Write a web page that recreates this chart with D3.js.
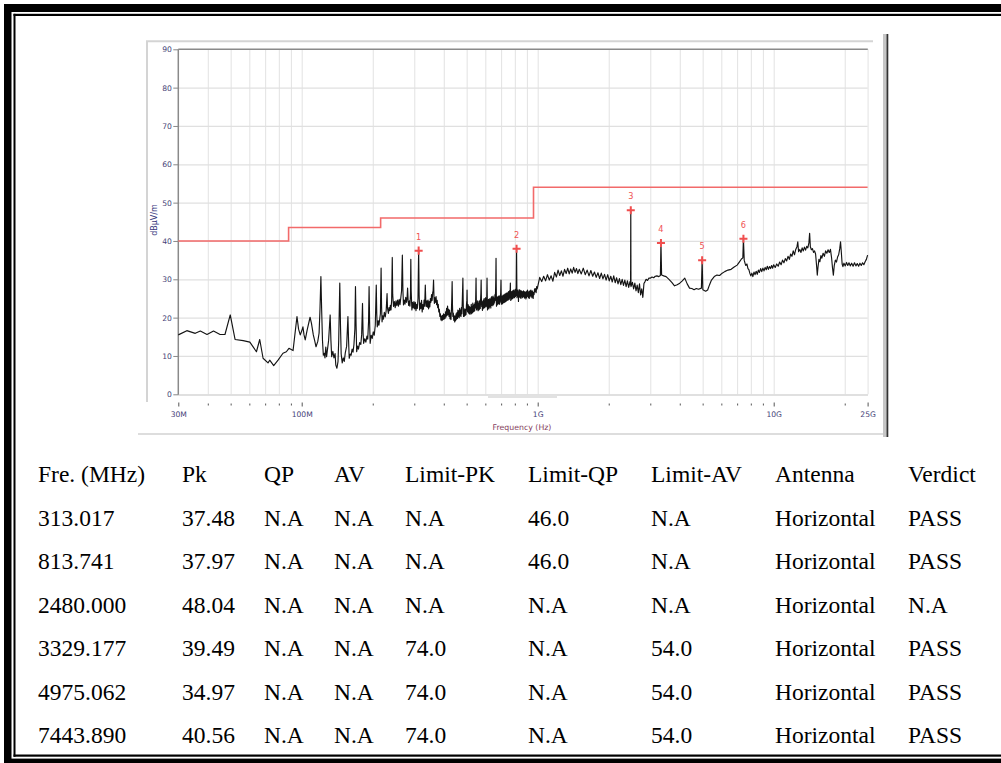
<!DOCTYPE html>
<html>
<head>
<meta charset="utf-8">
<script src="https://cdn.jsdelivr.net/npm/d3@7"></script>
<style>
  html, body { margin: 0; padding: 0; background: #fff; }
  svg { display: block; }
</style>
</head>
<body>
<svg id="chart" width="1001" height="763"></svg>
<script>
// ---------------- DATA ----------------
const yTickValues = [0, 10, 20, 30, 40, 50, 60, 70, 80, 90];
const xTickValues = [30, 40, 50, 60, 70, 80, 90, 100, 200, 300, 400, 500, 600, 700, 800, 900,
  1000, 2000, 3000, 4000, 5000, 6000, 7000, 8000, 9000, 10000, 20000, 25000];
const xTickLabels = { 30: "30M", 100: "100M", 1000: "1G", 10000: "10G", 25000: "25G" };

// limit line (step): frequency in MHz, level in dBuV/m
const limitFreqs = [30, 88, 216, 960, 25000];
const limitLevels = [40, 43.5, 46, 54, 54];

// measured trace [MHz, dBuV/m]
const traceLow = [
  [30,15.5],[32.6,16.6],[35.4,15.9],[37.2,16.5],[39.7,15.6],[42.3,16.5],[45.1,15.6],[47.3,15.6],
  [49.8,20.7],[52.2,14.3],[56.5,14.0],[60.3,13.6],[64.3,11.1],[66.4,14.3],[68.6,9.4],[72,8.2],
  [73.2,8.9],[76.1,7.5],[79.4,8.9],[83.3,10.7],[86.1,11.1],[88.3,12],[91.9,11.4],[95.5,20.3],
  [97,17],[98.6,15.5]
];
const traceMid = [
  [100,16.5],[101.2,17.6],[102.3,15.5],[103.5,14.2],[105.5,16.8],[108.5,20.1],[110,18.5],[112,15.5],
  [113.5,14],[115,12.4],[117,13.8],[118.5,16],[119.5,22],[120.6,30.7],[121.5,22],[122.5,14],
  [123.5,10.2],[124.6,10.7],[125.5,9.5],[126.5,12.3],[127.5,9.8],[128.5,11.5],[130,14],[132,20.7],
  [133,14],[134,9.8],[135.5,11.2],[137,9.5],[138.5,10.6],[139.5,7.6],[141,6.8],[142.5,8.5],
  [143.5,14],[145,29],[146,18],[147,10.5],[148.5,8.2],[150,9.5],[151.5,8.6],[153,10.8],[155,12.5],
  [157,20.3],[158,14],[159,9.4],[160.5,10.5],[162,10.2],[163.5,11.8],[165,11],[166.5,13],[168,17],
  [169,28.1],[170,18],[171,11.1],[172.5,12.6],[174,11.8],[176,13.5],[178,13],[179.5,15.5],
  [181,23.7],[182,16],[183,13.3],[185,14.5],[187,13.6],[189,15.2],[190.5,14.4],[192,19],[193,28.1],
  [194,19],[195,13.3],[197,15.4],[199,14.6],[201,16.3],[203,15.4],[205,18],[207,28.5],[208,21],
  [209,17.6],[211,19.2],[212.5,18],[214,19.5],[215.5,21],[217,32.9],[218,23],[219,18.9],[220.5,20.5],
  [222,19.6],[224,21.4],[226,20.2],[228,21.8],[230,26.3],[231,22.5],[233,21.1],[234.5,22.6],
  [236,21.8],[237.5,23.2],[239,22],[240.5,24.5],[242,35.7],[243,26],[245,22.9],[247,24.2],[249,22.6],
  [251,24.4],[253,23.1],[255,24.6],[257,23],[259,24.8],[261,23.4],[263,25.2],[265,27],[267,36.3],
  [268.5,27],[270,23.3],[272,24.6],[274,23.5],[276,25.3],[278,24],[279.5,25],[281,27.7],[282.5,24.5],
  [284,23.2],[286,24.4],[287.5,23],[289,26],[290,35.2],[291,27],[293,22],[295,24],[297,22.5],
  [299,24.2],[301,22.3],[303,24],[305,21.8],[307,23.5],[309,22.4],[311,25],[313,37.5],[314.5,26],
  [316,22],[318,23.8],[320,22.4],[322,24.5],[324,21.5],[326,23.4],[328,22.2],[330,24.6],[332,23],
  [334,28.5],[335.5,24.5],[337,22.9],[339,24.4],[341,22.7],[343,24.6],[345,22.3],[347,24.2],
  [349,22.8],[351,25],[353,24],[355,26],[357,24.5],[359,26.5],[360.5,27],[362,29.8],[363.5,25.5],
  [365,23.7],[367,25.2],[369,24],[371,25.5],[373,23.4],[375,24.5],[377,22.6],[379,23.5],[381,21.5],
  [383,22.2],[385,20.3],[387,21],[389,19.4],[391,20.4],[393,19.2],[395,20.6],[397,19.5],[399,21],
  [401,19.6],[403,20.8],[405,19.8],[407,21.5],[409,20.2],[411,22.4],[413,20.6],[415,23],[417,20.8],
  [419,22.2],[421,20.3],[423,22],[425,19.7],[427,21.2],[429,19.5],[431,22],[432.5,25],[434,29.4],
  [435.5,23],[437,20.3],[439,21.2],[441,19.3],[443,20.5],[445,18.9],[447,20.4],[449,19.2],[451,21],
  [453,19.6],[455,21.3],[457,19.8],[459,22],[461,20.2],[463,21.8],[465,20],[467,22.4],[469,20.5],
  [471,22],[473,20.3],[475,22.6],[477,21],[479,24],[480.5,27],[482,30.3],[483.5,24],[485,20.3],
  [487,22],[489,20.4],[491,22.3],[493,20.6],[495,22.1],[497,20.8],[499,23.2],[501,24.5],[502,27.2],
  [503.5,22],[505,21.5],[507,23.4],[509,21.2],[511,23],[513,21],[515,22.8],[517,20.9],[519,22.6],
  [521,21.2],[523,23.5],[525,21],[527,22.9],[529,21.3],[531,23.8],[533,21.5],[535,23.2],[537,21.6],
  [539,23.5],[541,21.8],[543,23.9],[545,22.5],[546.5,26],[548,30.3],[549.5,24],[551,22],[553,24],
  [555,22.3],[557,24.4],[559,21.8],[561,23.6],[563,22],[565,24.2],[567,22.2],[569,24.5],[571,22.4],
  [573,24.8],[574.5,26.5],[576,29.8],[577.5,24.5],[579,22.9],[581,24.3],[583,21.9],[585,24],
  [587,22.3],[589,24.6],[591,22.5],[593,25],[595,22.6],[597,24.2],[599,23],[601,25.2],[603,22.8],
  [605,24.6],[607,23],[608.5,26],[610,30.3],[611.5,25],[613,22],[615,24.2],[617,22.5],[619,24.8],
  [621,22.3],[623,24.5],[625,22.7],[627,25],[629,23],[631,24.6],[633,22.5],[635,25.2],[637,23.2],
  [639,25.5],[641,23.5],[643,25],[645,23.1],[647,25.6],[649,23.4],[651,25.2],[653,23.6],[655,25],
  [657,24],[659,26],[661,24.5],[663,27],[664.5,30],[666,35.5],[667.5,28],[669,23],[671,25],
  [673,23.3],[675,25.4],[677,23.5],[679,25.1],[681,23.6],[683,25.6],[685,23.8],[687,25.2],[689,23.5],
  [691,25.7],[693,24],[695,25.5],[697,26.5],[699,29.8],[700.5,25.5],[702,23.5],[704,25.6],[706,23.8],
  [708,25.4],[710,23.6],[712,25.8],[714,24],[716,25.5],[718,23.9],[720,26],[722,24.2],[724,25.8],
  [726,24],[728,26.2],[730,24.4],[732,25.9],[734,24.2],[736,26.4],[738,24.6],[740,26],[742,24.5],
  [744,26.5],[746,24.8],[748,26.2],[750,24.6],[752,26.8],[754,25],[756,26.4],[758,24.8],[760,27],
  [762,25.2],[764,26.5],[766,29],[767.5,26],[769,24.5],[771,26.6],[773,25],[775,26.8],[777,24.8],
  [779,26.3],[781,25.2],[783,27],[785,25],[787,26.6],[789,25.3],[791,27.2],[793,25.5],[795,26.8],
  [797,25.2],[799,27],[801,25.6],[803,27.4],[805,25.5],[807,26.8],[809,25.8],[811,28.5],[813.7,38],
  [815.5,30],[817,25.2],[819,27],[821,25.5],[823,27.2],[825,25.8],[827,26.6],[829,24.2],[831,26.8],
  [833,25.6],[835,27.3],[837,25.4],[839,26.9],[841,25.3],[843,27.1],[845,25.8],[847,26.6],[849,25],
  [852,27],[855,25.6],[858,26.8],[861,25.2],[864,26.7],[867,25.5],[870,27],[873,25.4],[876,26.6],
  [879,25.1],[882,26.8],[885,25.3],[888,26.5],[891,24.9],[894,26.7],[897,25.2],[900,26.9],[903,25.6],
  [906,27.2],[909,25.5],[912,26.8],[915,25.2],[918,26.5],[921,25],[924,26.9],[927,25.4],[930,27],
  [933,25.8],[936,27.2],[939,25.6],[942,26.8],[945,25.2],[948,27],[951,25.5],[954,26.7],[957,25],
  [960,26.5],[965,26],[970,27.5],[975,26.8],[980,27.6],[985,26.5],[990,28.1],[995,27.5]
];
const traceGHz = [
  [1000,28.1],[1020,30.5],[1040,29.4],[1060,30.8],[1080,29.6],[1100,31.2],[1120,29.8],[1140,30.9],
  [1160,29.5],[1180,31.8],[1200,30.6],[1220,32.4],[1240,31.0],[1260,32.2],[1280,30.8],[1300,32.6],
  [1320,31.5],[1340,32.9],[1360,31.4],[1380,32.7],[1400,31.6],[1420,33.1],[1440,31.8],[1460,32.8],
  [1480,31.5],[1500,32.6],[1530,31.4],[1560,32.9],[1590,31.2],[1620,32.4],[1650,30.9],[1680,32.3],
  [1710,30.8],[1740,31.9],[1770,30.5],[1800,31.7],[1830,30.2],[1860,31.6],[1890,30.1],[1920,31.3],
  [1950,29.8],[1980,31.2],[2010,29.6],[2040,30.8],[2070,29.3],[2100,30.9],[2130,29.1],[2160,30.4],
  [2190,28.8],[2220,30.2],[2250,28.6],[2280,30.0],[2310,28.4],[2340,29.8],[2370,28.1],[2400,29.6],
  [2430,27.9],[2460,29.4],[2475,28.5],[2480,48.04],[2485,28.1],[2520,29.2],[2550,27.5],[2580,29.0],
  [2610,27.0],[2640,28.5],[2670,26.5],[2700,28.8],[2730,25.9],[2760,27.5],[2790,25.3],[2820,28.9],
  [2850,29.4],[2880,30.0],[2920,29.7],[2960,30.3],[3000,30.3],[3050,30.6],[3100,30.4],[3150,30.8],
  [3200,30.9],[3260,30.7],[3310,31.0],[3329,39.49],[3350,31.1],[3420,30.9],[3500,30.7],[3600,30.0],
  [3700,29.2],[3800,28.3],[3900,28.6],[4000,29.0],[4100,29.6],[4200,30.3],[4300,28.8],[4400,27.7],
  [4500,27.6],[4600,27.3],[4700,27.6],[4800,27.4],[4940,27.7],[4975,34.97],[5010,27.3],[5150,26.9],
  [5250,27.2],[5350,28.6],[5450,29.8],[5600,30.7],[5750,31.1],[5900,31.0],[6050,31.6],[6200,32.0],
  [6400,32.4],[6600,32.6],[6800,33.2],[7000,33.7],[7150,34.5],[7300,35.3],[7400,35.6],[7443.89,40.56],
  [7500,35],[7560,34.2],[7620,33.6],[7700,34],[7780,32.8],[7850,32.5],[7920,31.6],[8000,30.9],
  [8080,31.6],[8160,30.7],[8250,31.9],[8340,31.2],[8430,32.1],[8520,31.3],[8610,32.4],[8700,31.8],
  [8800,32.8],[8900,32],[9000,32.9],[9100,32.2],[9200,33.1],[9300,32.5],[9400,33.4],[9500,32.6],
  [9600,33.3],[9700,32.8],[9800,33.6],[9900,32.9],[10000,33.8],[10150,33.1],[10300,34],[10450,33.4],
  [10600,34.5],[10750,33.8],[10900,35],[11050,34.3],[11200,35.4],[11350,34.8],[11500,36],[11650,35.2],
  [11800,36.6],[11950,36],[12100,37.4],[12250,36.4],[12400,37.8],[12550,38.5],[12650,39.8],[12750,37.2],
  [12900,37.8],[13050,37],[13200,38.2],[13350,37.4],[13500,38.4],[13650,37.6],[13800,38.6],[13950,38.2],
  [14100,39.5],[14200,42],[14300,38.5],[14450,37.7],[14600,38],[14750,37],[14900,37.4],[15050,36.6],
  [15200,33.5],[15300,31.1],[15400,33],[15550,35.2],[15700,34.6],[15850,36.2],[16000,35.5],[16200,36.8],
  [16400,36],[16600,37.4],[16800,36.8],[17000,37.7],[17200,37],[17400,37.8],[17600,35.5],[17750,33],
  [17900,31.1],[18050,33.5],[18250,35],[18450,34.5],[18650,35.8],[18850,36.4],[19050,38],[19200,39.8],
  [19350,37],[19500,34],[19650,33.3],[19850,34.2],[20100,33.5],[20350,34.4],[20600,33.6],[20850,34.3],
  [21100,33.5],[21400,34.2],[21700,33.4],[22000,34.3],[22300,33.5],[22600,34.1],[22900,33.4],[23200,34.2],
  [23500,33.6],[23800,34.3],[24100,33.8],[24400,34.6],[24700,35.2],[25000,36.3]
];

const tableHeader = ["Fre. (MHz)", "Pk", "QP", "AV", "Limit-PK", "Limit-QP", "Limit-AV", "Antenna", "Verdict"];
const tableRows = [
  ["313.017", "37.48", "N.A", "N.A", "N.A", "46.0", "N.A", "Horizontal", "PASS"],
  ["813.741", "37.97", "N.A", "N.A", "N.A", "46.0", "N.A", "Horizontal", "PASS"],
  ["2480.000", "48.04", "N.A", "N.A", "N.A", "N.A", "N.A", "Horizontal", "N.A"],
  ["3329.177", "39.49", "N.A", "N.A", "74.0", "N.A", "54.0", "Horizontal", "PASS"],
  ["4975.062", "34.97", "N.A", "N.A", "74.0", "N.A", "54.0", "Horizontal", "PASS"],
  ["7443.890", "40.56", "N.A", "N.A", "74.0", "N.A", "54.0", "Horizontal", "PASS"]
];
const markerIds = ["1", "2", "3", "4", "5", "6"];

// ---------------- DRAW ----------------
const svg = d3.select("#chart");
svg.append("rect").attr("width", 1001).attr("height", 763).attr("fill", "#fff");

// page borders (double line: thick outer, thin inner)
const borders = svg.append("g").attr("fill", "#000");
borders.append("rect").attr("x", 4).attr("y", 4).attr("width", 997).attr("height", 8);
borders.append("rect").attr("x", 13.5).attr("y", 13.8).attr("width", 987.5).attr("height", 2.2);
borders.append("rect").attr("x", 4).attr("y", 4).attr("width", 7.5).attr("height", 759);
borders.append("rect").attr("x", 13.5).attr("y", 13.8).attr("width", 2).attr("height", 743);
borders.append("rect").attr("x", 13.5).attr("y", 754.5).attr("width", 987.5).attr("height", 2.2);
borders.append("rect").attr("x", 4).attr("y", 758.6).attr("width", 997).attr("height", 4.4);

// screenshot frame decorations
const frame = svg.append("g");
frame.append("line").attr("x1", 146).attr("x2", 873).attr("y1", 41.3).attr("y2", 41.3)
  .attr("stroke", "#d4d4d4").attr("stroke-width", 2);
frame.append("line").attr("x1", 147).attr("x2", 147).attr("y1", 41).attr("y2", 402)
  .attr("stroke", "#d4d4d4").attr("stroke-width", 2);
frame.append("line").attr("x1", 138).attr("x2", 883).attr("y1", 434).attr("y2", 434)
  .attr("stroke", "#d2d2d2").attr("stroke-width", 1.5);
frame.append("rect").attr("x", 883).attr("y", 34).attr("width", 3.6).attr("height", 403).attr("fill", "#c6c6c6");
frame.append("rect").attr("x", 886.5).attr("y", 34).attr("width", 1.8).attr("height", 403).attr("fill", "#333");

// scales
const x = d3.scaleLog().domain([30, 25000]).range([178.3, 867.6]);
const y = d3.scaleLinear().domain([0, 90]).range([394.3, 49.3]);

// grid
const grid = svg.append("g");
grid.append("g").attr("transform", "translate(0,394.3)")
  .call(d3.axisBottom(x).tickValues(xTickValues.filter(v => v !== 30)).tickSize(-(394.3 - 49.3)).tickFormat(""))
  .call(g => g.select(".domain").remove())
  .call(g => g.selectAll("line").attr("stroke", "#e2e2e2").attr("stroke-width", 1));
grid.append("g").attr("transform", "translate(178.3,0)")
  .call(d3.axisLeft(y).tickValues(yTickValues.filter(v => v > 0 && v < 90)).tickSize(-(867.6 - 178.3)).tickFormat(""))
  .call(g => g.select(".domain").remove())
  .call(g => g.selectAll("line").attr("stroke", "#e0e0e0").attr("stroke-width", 1.3));
grid.append("line").attr("x1", 178.3).attr("x2", 868).attr("y1", 395).attr("y2", 395)
  .attr("stroke", "#d6d6d6").attr("stroke-width", 1.3);
grid.append("rect").attr("x", 488).attr("y", 394.5).attr("width", 69).attr("height", 3.5).attr("fill", "#e2e2e2");
// plot frame (top & left)
grid.append("line").attr("x1", 178.3).attr("x2", 867.8).attr("y1", 49.3).attr("y2", 49.3)
  .attr("stroke", "#8a8a8a").attr("stroke-width", 1.5);
grid.append("line").attr("x1", 178.3).attr("x2", 178.3).attr("y1", 49.3).attr("y2", 394.8)
  .attr("stroke", "#8a8a8a").attr("stroke-width", 1.5);

// y axis
const tickColor = "#463f78";
svg.append("g").attr("transform", "translate(178.3,0)")
  .call(d3.axisLeft(y).tickValues(yTickValues).tickSize(5).tickPadding(1.5))
  .call(g => g.select(".domain").remove())
  .call(g => g.selectAll("line").attr("stroke", "#888").attr("stroke-width", 1))
  .call(g => g.selectAll("text").attr("fill", tickColor)
    .attr("font-family", "DejaVu Sans, sans-serif").attr("font-size", 7.6));

// x axis (tick dots and labels below the plot)
svg.append("g").attr("transform", "translate(0,403.5)")
  .call(d3.axisBottom(x).tickValues(xTickValues).tickSize(2).tickPadding(6)
    .tickFormat(v => xTickLabels[v] || ""))
  .call(g => g.select(".domain").remove())
  .call(g => g.selectAll("line").attr("stroke", "#555").attr("stroke-width", 1)
    .attr("y1", d => xTickLabels[d] ? -1 : 0).attr("y2", d => xTickLabels[d] ? 3 : 2))
  .call(g => g.selectAll("text").attr("fill", tickColor)
    .attr("font-family", "DejaVu Sans, sans-serif").attr("font-size", 7.6));

svg.append("text").attr("x", 522).attr("y", 430).attr("text-anchor", "middle")
  .attr("font-family", "DejaVu Sans, sans-serif").attr("font-size", 7.8).attr("fill", "#843d5c")
  .text("Frequency (Hz)");
svg.append("text").attr("transform", "translate(157,220) rotate(-90)").attr("text-anchor", "middle")
  .attr("font-family", "DejaVu Sans, sans-serif").attr("font-size", 8).attr("fill", "#3b3b80")
  .text("dBμV/m");

// limit line
const limitPts = limitFreqs.map((f, i) => [f, limitLevels[i]]);
svg.append("path").datum(limitPts)
  .attr("d", d3.line().x(d => x(d[0])).y(d => y(d[1])).curve(d3.curveStepAfter))
  .attr("fill", "none").attr("stroke", "#f26a6a").attr("stroke-width", 1.6);

// trace
const trace = traceLow.concat(traceMid, traceGHz);
svg.append("path").datum(trace)
  .attr("d", d3.line().x(d => x(d[0])).y(d => y(d[1])))
  .attr("fill", "none").attr("stroke", "#141414").attr("stroke-width", 1.15).attr("stroke-linejoin", "round");

// markers
const markers = tableRows.map((r, i) => ({ id: markerIds[i], f: parseFloat(r[0]), v: parseFloat(r[1]) }));
const mg = svg.append("g").selectAll("g").data(markers).join("g")
  .attr("transform", d => `translate(${x(d.f)},${y(d.v)})`);
mg.append("path").attr("d", d3.symbol(d3.symbolPlus).size(23))
  .attr("stroke", "#f04e4e").attr("stroke-width", 2).attr("fill", "none");
mg.append("text").attr("y", -11).attr("text-anchor", "middle")
  .attr("font-family", "DejaVu Sans, sans-serif").attr("font-size", 8.2).attr("fill", "#f05252")
  .text(d => d.id);

// table
const colX = [38, 182, 264, 334, 405, 528, 651, 775, 908];
const tableG = svg.append("g").attr("font-family", "Liberation Serif, Times New Roman, serif")
  .attr("font-size", 23.5).attr("fill", "#000");
const allRows = [tableHeader].concat(tableRows);
allRows.forEach((row, ri) => {
  tableG.append("g").selectAll("text").data(row).join("text")
    .attr("x", (d, ci) => colX[ci]).attr("y", 482 + ri * 43.5)
    .text(d => d);
});
</script>
</body>
</html>
